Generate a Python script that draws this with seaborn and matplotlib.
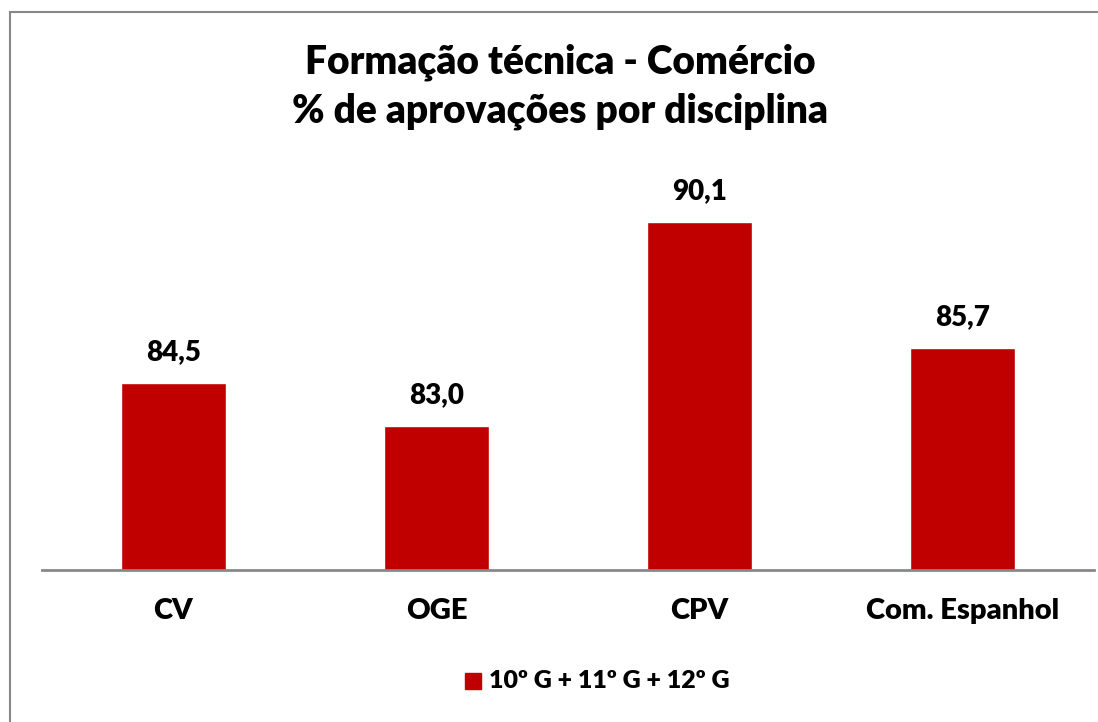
import pandas as pd
import seaborn as sns
import matplotlib.pyplot as plt
from matplotlib.patches import Rectangle

disciplinas = ["CV", "OGE", "CPV", "Com. Espanhol"]
aprovacoes = [84.5, 83.0, 90.1, 85.7]
serie = "10º G + 11º G + 12º G"
titulo = "Formação técnica - Comércio\n% de aprovações por disciplina"

sns.set_theme(style="white")
plt.rcParams["font.family"] = ["Lato", "DejaVu Sans"]
plt.rcParams["text.color"] = "black"
plt.rcParams["xtick.color"] = "black"
W = "heavy"

df = pd.DataFrame({"disciplina": disciplinas, "valor": aprovacoes, "serie": serie})

fig = plt.figure(figsize=(10.98, 7.22), dpi=100)
ax = fig.add_axes([0.0383, 0.2105, 0.9577, 0.558])

sns.barplot(data=df, x="disciplina", y="valor", hue="serie", palette=["#C00000"],
            width=0.4, ax=ax, saturation=1, legend=False)

for i, v in enumerate(aprovacoes):
    ax.annotate(f"{v:.1f}".replace(".", ","), (i, v), xytext=(0, 13), textcoords="offset points",
                ha="center", va="bottom", fontsize=20, fontweight=W, color="black")

ax.set_ylim(78, 92)
ax.set_yticks([])
ax.set_xlabel("")
ax.set_ylabel("")
ax.tick_params(axis="x", length=0, pad=20, labelsize=21, labelcolor="black")
for lbl in ax.get_xticklabels():
    lbl.set_fontweight(W)
for s in ["top", "right", "left"]:
    ax.spines[s].set_visible(False)
ax.spines["bottom"].set_color("#888888")
ax.spines["bottom"].set_linewidth(2)

fig.text(0.510, 1 - 87 / 722, titulo, ha="center", va="center", fontsize=28, fontweight=W,
         linespacing=1.4, color="black")

# legenda
fig.patches.append(Rectangle((465 / 1098, 1 - 689 / 722), 16 / 1098, 16 / 722,
                             transform=fig.transFigure, color="#C00000"))
fig.text(489 / 1098, 1 - 681 / 722, serie, ha="left", va="center", fontsize=18, fontweight=W,
         color="black")

# moldura
fig.patches.append(Rectangle((10 / 1098, -0.05), 1.1, 1 - 12 / 722 + 0.05,
                             transform=fig.transFigure, fill=False, edgecolor="#888888", linewidth=1.5))

fig.savefig("out.png", dpi=100)
